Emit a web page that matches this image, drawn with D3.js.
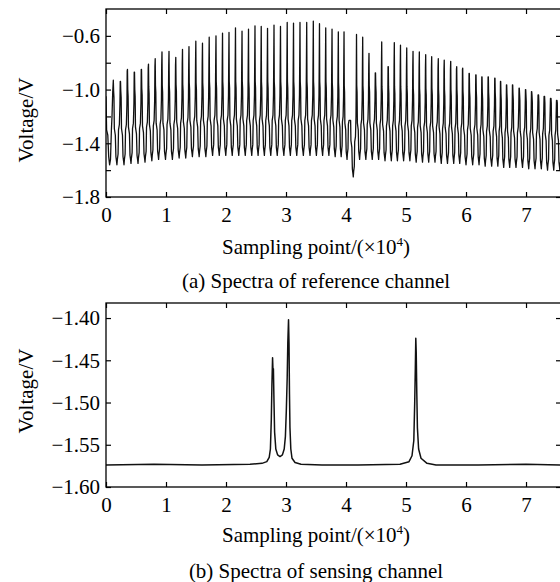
<!DOCTYPE html>
<html>
<head>
<meta charset="utf-8">
<script src="https://cdn.jsdelivr.net/npm/d3@7"></script>
<style>
    body { margin: 0; background: #fff; }
    svg text { font-family: "Liberation Serif", "Times New Roman", serif; fill: #000; }
</style>
</head>
<body>
<svg id="SVG_CONTAINER" width="560" height="582"></svg>
<script>
//dimension of our workspace
const width = 560, height = 582;

//x axis, in units of 10^4 sampling points
const xTicks = [0, 1, 2, 3, 4, 5, 6, 7];

//(a) reference channel axis
const refTicks = [-1.8, -1.6, -1.4, -1.2, -1.0, -0.8, -0.6];
const refLabels = [-1.8, -1.4, -1.0, -0.6];

//(b) sensing channel axis
const senseTicks = [-1.60, -1.55, -1.50, -1.45, -1.40];

//(a) position and height of every comb peak
const refPeakX = [0.122, 0.242, 0.358, 0.475, 0.592, 0.708, 0.820, 0.933, 1.050, 1.163,
    1.275, 1.383, 1.497, 1.608, 1.720, 1.833, 1.942, 2.050, 2.158, 2.267,
    2.375, 2.483, 2.587, 2.692, 2.800, 2.908, 3.020, 3.125, 3.233, 3.345,
    3.455, 3.558, 3.662, 3.767, 3.872, 3.967, 4.067, 4.175, 4.278, 4.383,
    4.492, 4.595, 4.705, 4.805, 4.908, 5.012, 5.117, 5.222, 5.328, 5.428,
    5.538, 5.637, 5.745, 5.845, 5.945, 6.055, 6.167, 6.267, 6.372, 6.483,
    6.578, 6.678, 6.778, 6.888, 6.995, 7.095, 7.205, 7.305, 7.412, 7.512, 7.615];
const refPeakV = [-0.93, -0.94, -0.85, -0.87, -0.85, -0.81, -0.77, -0.72, -0.715, -0.76,
    -0.70, -0.68, -0.64, -0.655, -0.61, -0.60, -0.58, -0.575, -0.54, -0.565,
    -0.55, -0.525, -0.53, -0.544, -0.52, -0.53, -0.50, -0.505, -0.50, -0.50,
    -0.49, -0.51, -0.54, -0.55, -0.57, -0.57, -1.23, -0.59, -0.61, -0.73,
    -0.875, -0.645, -0.83, -0.65, -0.67, -0.69, -0.715, -0.72, -0.74, -0.755,
    -0.77, -0.78, -0.79, -0.83, -0.84, -0.88, -0.89, -0.905, -0.905, -0.915,
    -0.94, -0.965, -0.965, -0.99, -1.00, -1.015, -1.04, -1.05, -1.065, -1.08, -1.10];
//bottom of the valley that follows each peak
const refTroughV = [-1.56, -1.56, -1.55, -1.55, -1.54, -1.53, -1.52, -1.52, -1.52, -1.51,
    -1.51, -1.50, -1.50, -1.50, -1.49, -1.49, -1.49, -1.49, -1.49, -1.49,
    -1.49, -1.49, -1.49, -1.49, -1.49, -1.49, -1.49, -1.49, -1.49, -1.49,
    -1.49, -1.49, -1.49, -1.50, -1.50, -1.52, -1.65, -1.52, -1.52, -1.52,
    -1.52, -1.53, -1.53, -1.53, -1.53, -1.53, -1.54, -1.54, -1.54, -1.54,
    -1.55, -1.55, -1.55, -1.55, -1.56, -1.56, -1.56, -1.57, -1.57, -1.57,
    -1.58, -1.58, -1.58, -1.58, -1.59, -1.59, -1.59, -1.60, -1.60, -1.60, -1.60];
//trace before the first peak
const refLeadX = [0, 0.010, 0.030, 0.045, 0.060, 0.075, 0.090, 0.100, 0.112];
const refLeadV = [-1.05, -1.30, -1.34, -1.50, -1.56, -1.52, -1.30, -1.20, -1.02];
//shape of one valley: fraction of the gap between peaks, height above its trough
const valleyFrac = [0.04, 0.09, 0.14, 0.28, 0.36, 0.46, 0.50, 0.56, 0.66, 0.72, 0.84, 0.92, 0.96];
const valleyRise = [0.55, 0.50, 0.27, 0.22, 0.06, 0.02, 0.00, 0.04, 0.08, 0.26, 0.30, 0.45, 0.70];

//(b) sensing channel trace
const senseX = [0, 0.80, 1.60, 2.40, 2.60, 2.68, 2.72, 2.74, 2.755, 2.765, 2.776, 2.782,
    2.79, 2.80, 2.81, 2.83, 2.86, 2.90, 2.94, 2.97, 2.99, 3.005, 3.02, 3.03, 3.042,
    3.05, 3.058, 3.066, 3.08, 3.10, 3.15, 3.25, 3.60, 4.20, 4.90, 5.05, 5.10, 5.13,
    5.145, 5.155, 5.163, 5.170, 5.18, 5.19, 5.21, 5.25, 5.35, 5.50, 6.20, 7.00, 7.60];
const senseV = [-1.574, -1.573, -1.574, -1.573, -1.572, -1.570, -1.565, -1.555, -1.52, -1.48, -1.447, -1.46,
    -1.46, -1.50, -1.535, -1.555, -1.562, -1.564, -1.562, -1.555, -1.54, -1.51, -1.47, -1.43, -1.402,
    -1.43, -1.49, -1.53, -1.555, -1.566, -1.571, -1.573, -1.574, -1.574, -1.573, -1.570, -1.563, -1.545,
    -1.50, -1.46, -1.424, -1.44, -1.49, -1.53, -1.555, -1.566, -1.572, -1.574, -1.574, -1.573, -1.574];

let SVG = d3.select("#SVG_CONTAINER");

//** REFERENCE TRACE POINTS *****************************************
let refPoints = refLeadX.map((x, i) => [x, refLeadV[i]]);
for (let i = 0; i < refPeakX.length; i++) {
    refPoints.push([refPeakX[i], refPeakV[i]]);
    if (i == refPeakX.length - 1) break;
    let gap = refPeakX[i + 1] - refPeakX[i];
    for (let k = 0; k < valleyFrac.length; k++) {
        let v = refTroughV[i] + valleyRise[k];
        let limit = valleyFrac[k] < 0.5 ? refPeakV[i] : refPeakV[i + 1];
        refPoints.push([refPeakX[i] + gap * valleyFrac[k], Math.min(v, limit)]);
    }
}
let sensePoints = senseX.map((x, i) => [x, senseV[i]]);

/**
 * Draws one framed panel with its trace, axes and texts
 */
drawPanel = function (cfg) {
    let g = SVG.append("g");

    let xScale = d3.scaleLinear()
        .domain([0, 7.583])
        .range([106, 561]);
    let yScale = d3.scaleLinear()
        .domain(cfg.yDomain)
        .range([cfg.bottom, cfg.top]);

    //clip the trace to the frame
    g.append("clipPath").attr("id", cfg.id)
        .append("rect")
        .attr("x", 106).attr("y", cfg.top)
        .attr("width", 455).attr("height", cfg.bottom - cfg.top);

    g.append("path")
        .datum(cfg.points)
        .attr("clip-path", "url(#" + cfg.id + ")")
        .attr("fill", "none")
        .attr("stroke", "#111")
        .attr("stroke-width", cfg.lineWidth)
        .attr("stroke-linejoin", "round")
        .attr("d", d3.line().x(d => xScale(d[0])).y(d => yScale(d[1])));

    //axes with inward ticks
    let bottomAxis = d3.axisBottom(xScale).tickValues(xTicks)
        .tickSizeInner(-5).tickSizeOuter(0).tickPadding(10)
        .tickFormat(d3.format("d"));
    let topAxis = d3.axisTop(xScale).tickValues(xTicks)
        .tickSizeInner(-5).tickSizeOuter(0).tickFormat("");
    let leftAxis = d3.axisLeft(yScale).tickValues(cfg.ticks)
        .tickSizeInner(-5).tickSizeOuter(0).tickPadding(6)
        .tickFormat(d => cfg.labels.some(l => Math.abs(l - d) < 1e-9) ? d3.format(cfg.fmt)(d) : "");
    let rightAxis = d3.axisRight(yScale).tickValues(cfg.ticks)
        .tickSizeInner(-5).tickSizeOuter(0).tickFormat("");

    g.append("g").attr("transform", "translate(0," + cfg.bottom + ")").call(bottomAxis);
    g.append("g").attr("transform", "translate(0," + cfg.top + ")").call(topAxis);
    g.append("g").attr("transform", "translate(106,0)").call(leftAxis);
    g.append("g").attr("transform", "translate(561,0)").call(rightAxis);

    g.selectAll(".domain").remove();
    g.selectAll(".tick line").attr("stroke", "#000").attr("stroke-width", 1.2);
    g.selectAll(".tick text")
        .style("font-family", '"Liberation Serif", "Times New Roman", serif')
        .style("font-size", "21px")
        .attr("fill", "#000");

    //frame
    g.append("rect")
        .attr("x", 106).attr("y", cfg.top)
        .attr("width", 455).attr("height", cfg.bottom - cfg.top)
        .attr("fill", "none")
        .attr("stroke", "#000")
        .attr("stroke-width", 1.3);

    //axis labels
    g.append("text")
        .attr("text-anchor", "middle")
        .attr("transform", "translate(33," + cfg.yLabelY + ") rotate(-90)")
        .style("font-size", "21px")
        .text("Voltage/V");

    let xl = g.append("text")
        .attr("x", 316)
        .attr("y", cfg.xLabelY)
        .attr("text-anchor", "middle")
        .style("font-size", "21px");
    xl.append("tspan").text("Sampling point/(×10");
    xl.append("tspan").attr("dy", -8).style("font-size", "13px").text("4");
    xl.append("tspan").attr("dy", 8).text(")");

    g.append("text")
        .attr("x", 316)
        .attr("y", cfg.captionY)
        .attr("text-anchor", "middle")
        .style("font-size", "21px")
        .text(cfg.caption);
};

drawPanel({
    id: "clipA", top: 9, bottom: 197, yDomain: [-1.8, -0.4],
    ticks: refTicks, labels: refLabels, fmt: ".1f",
    points: refPoints, lineWidth: 1.3,
    yLabelY: 120, xLabelY: 254, captionY: 288,
    caption: "(a) Spectra of reference channel"
});

drawPanel({
    id: "clipB", top: 303, bottom: 487, yDomain: [-1.6, -1.3822],
    ticks: senseTicks, labels: senseTicks, fmt: ".2f",
    points: sensePoints, lineWidth: 1.5,
    yLabelY: 391, xLabelY: 542, captionY: 578,
    caption: "(b) Spectra of sensing channel"
});
</script>
</body>
</html>
